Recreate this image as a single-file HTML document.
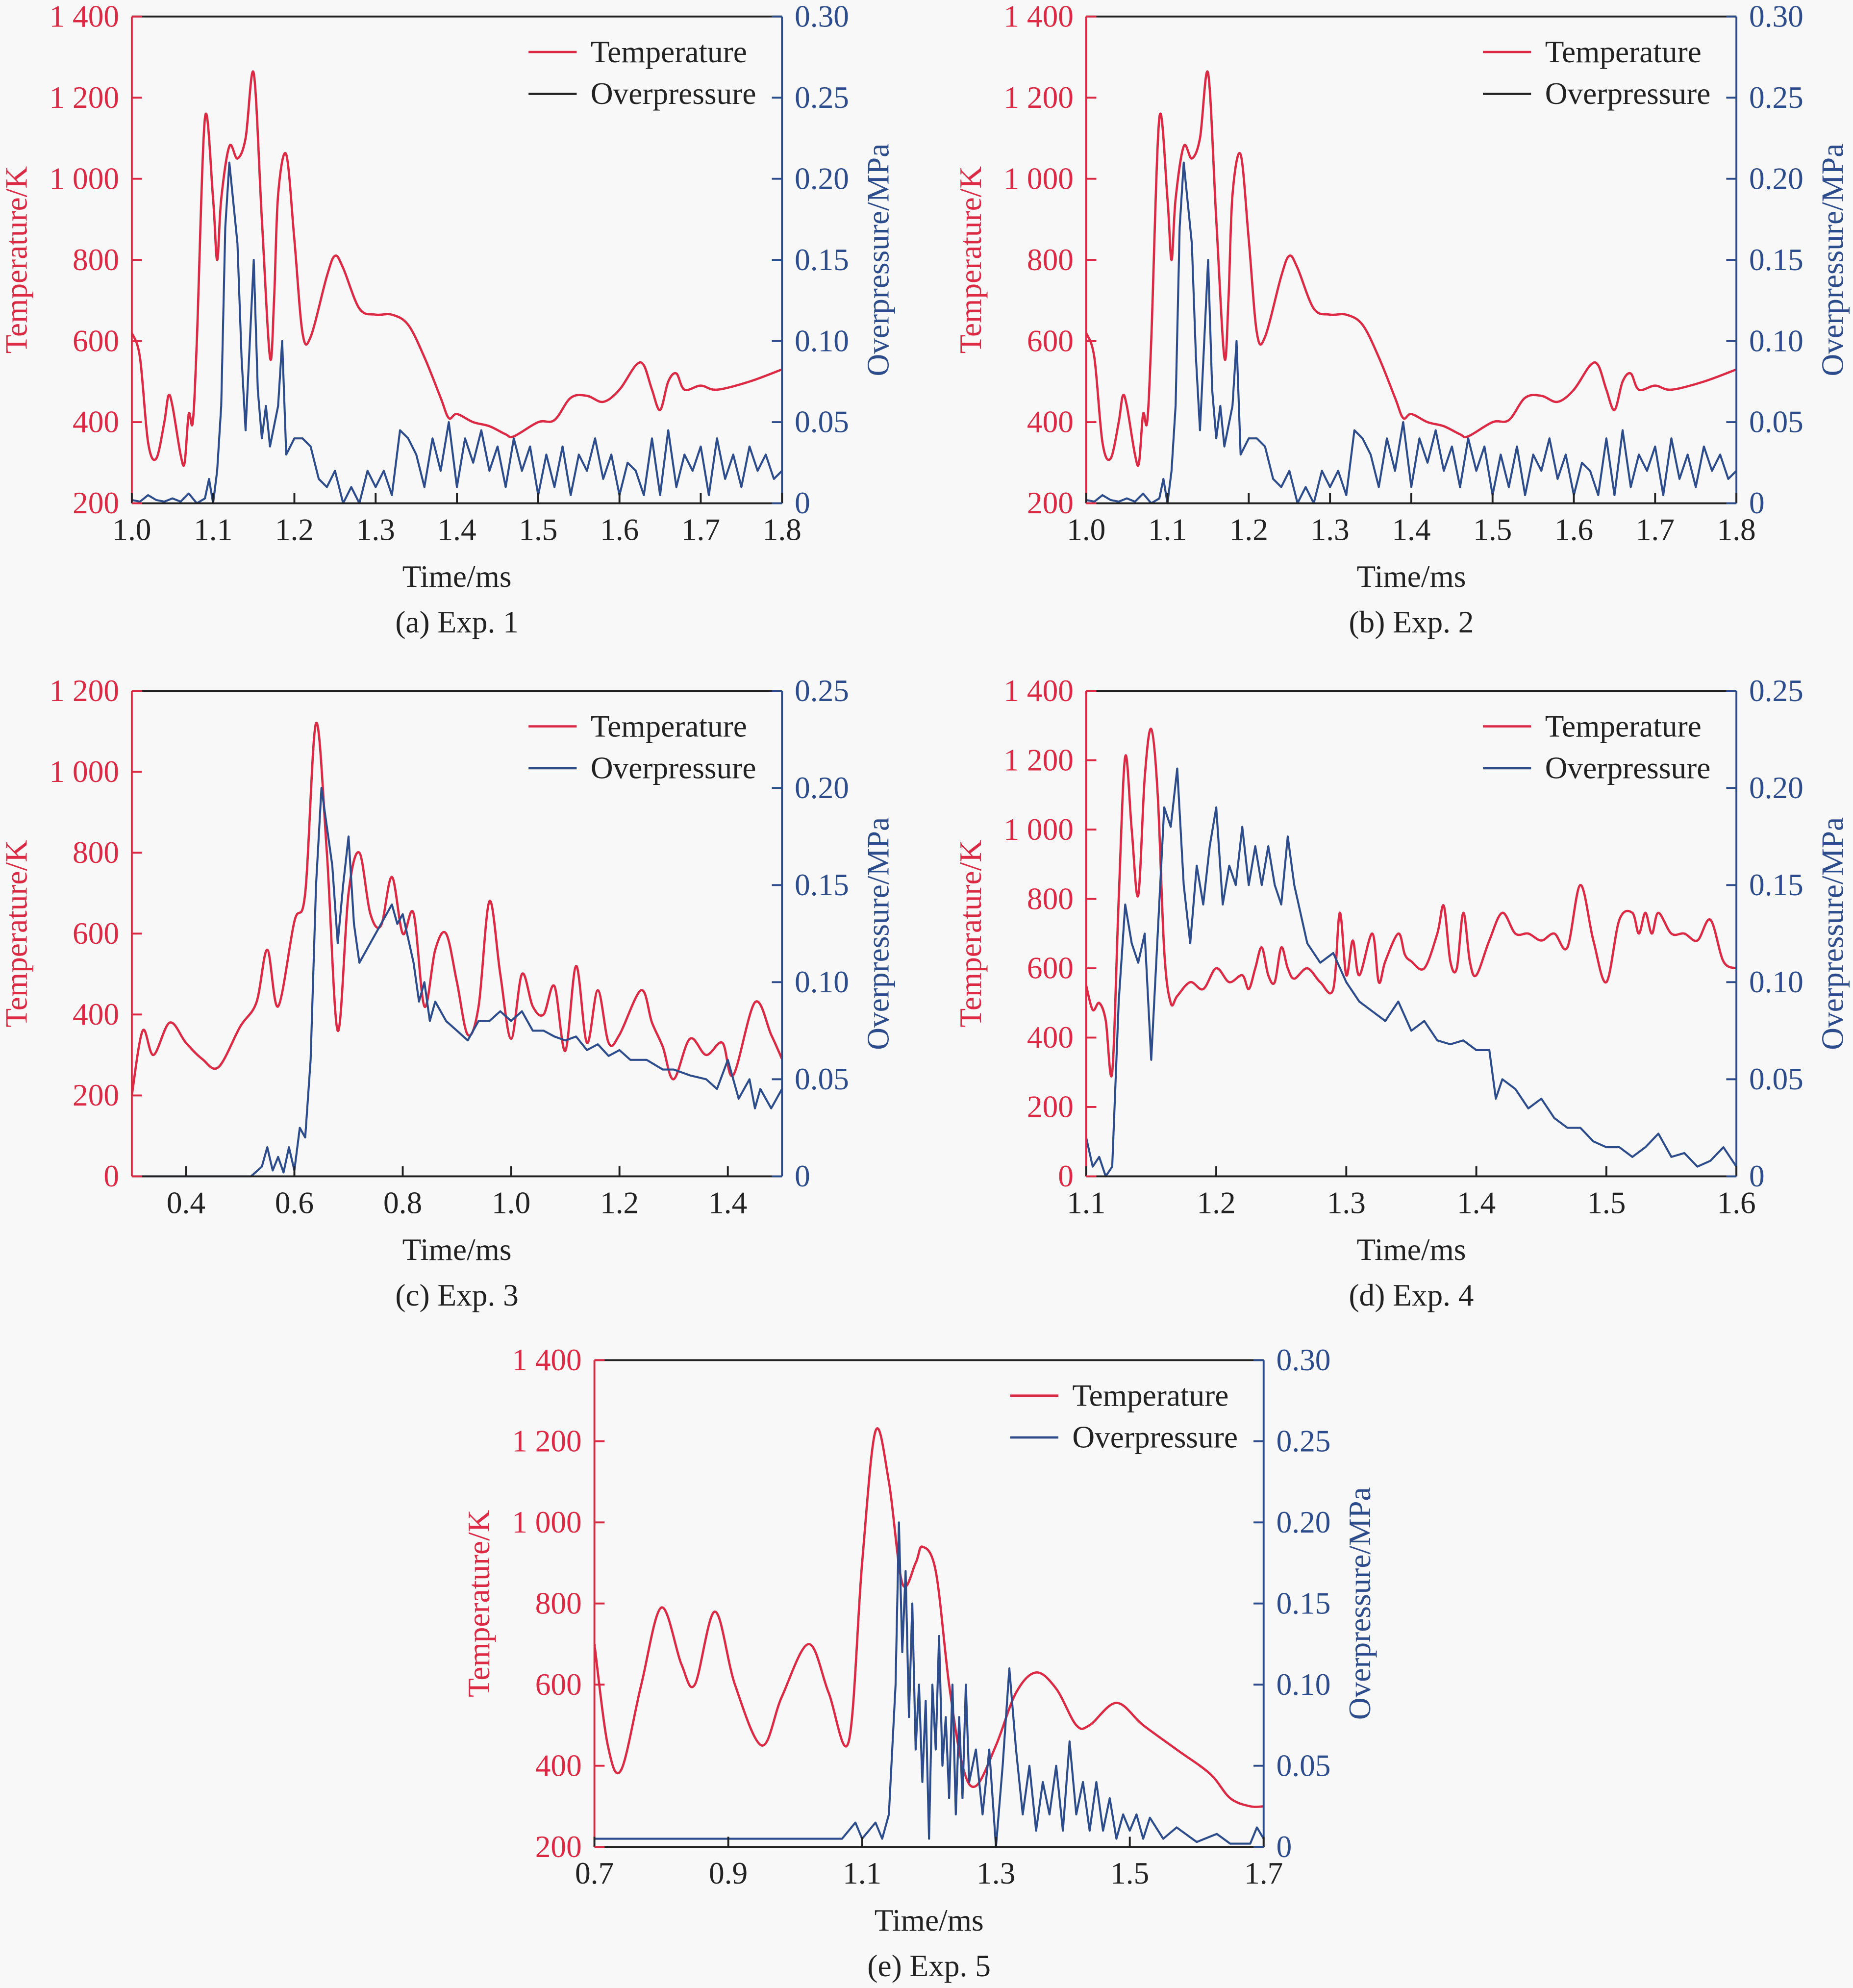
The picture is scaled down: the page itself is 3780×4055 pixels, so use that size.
<!DOCTYPE html>
<html><head><meta charset="utf-8"><style>
html,body{margin:0;padding:0;background:#f8f8f8;}
svg{display:block;}
text{font-family:"Liberation Serif","Times New Roman",serif;}
</style></head><body>
<svg id="fig" xmlns="http://www.w3.org/2000/svg" width="3780" height="4055" viewBox="0 0 1462 1568.3" font-family="Liberation Serif, serif">
<rect x="0" y="0" width="1462" height="1568.3" fill="#f8f8f8"/>
</svg>
<script>
const tempA=[[1.0,620],[1.01,560],[1.02,350],[1.03,310],[1.04,400],[1.045,465],[1.05,440],[1.06,320],[1.065,300],[1.07,420],[1.075,400],[1.08,600],[1.09,1150],[1.1,950],[1.105,800],[1.11,950],[1.12,1080],[1.13,1050],[1.14,1100],[1.15,1260],[1.16,900],[1.17,560],[1.175,700],[1.18,960],[1.19,1060],[1.2,850],[1.21,620],[1.22,610],[1.24,760],[1.25,810],[1.26,780],[1.28,680],[1.3,665],[1.32,665],[1.34,640],[1.36,560],[1.38,460],[1.39,410],[1.4,420],[1.42,400],[1.44,390],[1.46,370],[1.47,365],[1.5,400],[1.52,405],[1.54,460],[1.56,465],[1.58,450],[1.6,480],[1.62,540],[1.63,540],[1.64,480],[1.65,430],[1.66,500],[1.67,520],[1.68,480],[1.7,490],[1.72,480],[1.76,500],[1.8,530]];
const presA=[[1.0,0.002],[1.01,0.001],[1.02,0.005],[1.03,0.002],[1.04,0.001],[1.05,0.003],[1.06,0.001],[1.07,0.006],[1.08,0],[1.09,0.003],[1.095,0.015],[1.1,0.0],[1.105,0.02],[1.11,0.06],[1.115,0.17],[1.12,0.21],[1.13,0.16],[1.135,0.09],[1.14,0.045],[1.15,0.15],[1.155,0.07],[1.16,0.04],[1.165,0.06],[1.17,0.035],[1.18,0.06],[1.185,0.1],[1.19,0.03],[1.2,0.04],[1.21,0.04],[1.22,0.035],[1.23,0.015],[1.24,0.01],[1.25,0.02],[1.26,0.0],[1.27,0.01],[1.28,0.0],[1.29,0.02],[1.3,0.01],[1.31,0.02],[1.32,0.005],[1.33,0.045],[1.34,0.04],[1.35,0.03],[1.36,0.01],[1.37,0.04],[1.38,0.02],[1.39,0.05],[1.4,0.01],[1.41,0.04],[1.42,0.025],[1.43,0.045],[1.44,0.02],[1.45,0.035],[1.46,0.01],[1.47,0.04],[1.48,0.02],[1.49,0.035],[1.5,0.005],[1.51,0.03],[1.52,0.01],[1.53,0.035],[1.54,0.005],[1.55,0.03],[1.56,0.02],[1.57,0.04],[1.58,0.015],[1.59,0.03],[1.6,0.005],[1.61,0.025],[1.62,0.02],[1.63,0.005],[1.64,0.04],[1.65,0.005],[1.66,0.045],[1.67,0.01],[1.68,0.03],[1.69,0.02],[1.7,0.035],[1.71,0.005],[1.72,0.04],[1.73,0.015],[1.74,0.03],[1.75,0.01],[1.76,0.035],[1.77,0.02],[1.78,0.03],[1.79,0.015],[1.8,0.02]];
const tempB=tempA.map(p=>p.slice());
const presB=presA.map(p=>p.slice());
const tempC=[[0.3,200],[0.32,360],[0.34,300],[0.37,380],[0.4,330],[0.43,290],[0.46,270],[0.5,370],[0.53,430],[0.55,560],[0.57,420],[0.6,630],[0.62,700],[0.64,1120],[0.66,800],[0.68,360],[0.7,700],[0.72,800],[0.74,650],[0.76,620],[0.78,740],[0.8,600],[0.82,650],[0.84,420],[0.86,560],[0.88,600],[0.9,480],[0.92,350],[0.94,420],[0.96,680],[0.98,500],[1.0,340],[1.02,500],[1.04,420],[1.06,400],[1.08,470],[1.1,310],[1.12,520],[1.14,330],[1.16,460],[1.18,330],[1.2,350],[1.24,460],[1.26,380],[1.28,320],[1.3,240],[1.33,340],[1.36,300],[1.39,330],[1.41,250],[1.45,430],[1.48,350],[1.5,290]];
const presC=[[0.3,0],[0.52,0],[0.54,0.005],[0.55,0.015],[0.56,0.003],[0.57,0.01],[0.58,0.002],[0.59,0.015],[0.6,0.003],[0.61,0.025],[0.62,0.02],[0.63,0.06],[0.64,0.15],[0.65,0.2],[0.66,0.18],[0.67,0.16],[0.68,0.12],[0.69,0.15],[0.7,0.175],[0.71,0.13],[0.72,0.11],[0.74,0.12],[0.76,0.13],[0.78,0.14],[0.79,0.13],[0.8,0.135],[0.82,0.11],[0.83,0.09],[0.84,0.1],[0.85,0.08],[0.86,0.09],[0.88,0.08],[0.9,0.075],[0.92,0.07],[0.94,0.08],[0.96,0.08],[0.98,0.085],[1.0,0.08],[1.02,0.085],[1.04,0.075],[1.06,0.075],[1.08,0.072],[1.1,0.07],[1.12,0.072],[1.14,0.065],[1.16,0.068],[1.18,0.062],[1.2,0.065],[1.22,0.06],[1.25,0.06],[1.28,0.055],[1.3,0.055],[1.33,0.052],[1.36,0.05],[1.38,0.045],[1.4,0.06],[1.42,0.04],[1.44,0.05],[1.45,0.035],[1.46,0.045],[1.48,0.035],[1.5,0.045]];
const tempD=[[1.1,550],[1.105,480],[1.11,500],[1.115,450],[1.12,300],[1.125,800],[1.13,1210],[1.135,1000],[1.14,810],[1.145,1150],[1.15,1290],[1.155,1100],[1.16,650],[1.165,500],[1.17,520],[1.18,560],[1.19,540],[1.2,600],[1.21,560],[1.22,580],[1.225,540],[1.23,600],[1.235,660],[1.24,580],[1.245,560],[1.25,660],[1.255,600],[1.26,570],[1.27,600],[1.28,560],[1.29,540],[1.295,760],[1.3,580],[1.305,680],[1.31,580],[1.32,700],[1.325,560],[1.33,620],[1.34,700],[1.345,640],[1.35,620],[1.36,600],[1.37,700],[1.375,780],[1.38,620],[1.385,600],[1.39,760],[1.395,620],[1.4,580],[1.41,680],[1.42,760],[1.43,700],[1.44,700],[1.45,680],[1.46,700],[1.47,660],[1.48,840],[1.49,680],[1.5,560],[1.51,740],[1.52,760],[1.525,700],[1.53,760],[1.535,700],[1.54,760],[1.55,700],[1.56,700],[1.57,680],[1.58,740],[1.59,620],[1.6,600]];
const presD=[[1.1,0.02],[1.105,0.005],[1.11,0.01],[1.115,0.0],[1.12,0.005],[1.125,0.09],[1.13,0.14],[1.135,0.12],[1.14,0.11],[1.145,0.125],[1.15,0.06],[1.155,0.125],[1.16,0.19],[1.165,0.18],[1.17,0.21],[1.175,0.15],[1.18,0.12],[1.185,0.16],[1.19,0.14],[1.195,0.17],[1.2,0.19],[1.205,0.14],[1.21,0.16],[1.215,0.15],[1.22,0.18],[1.225,0.15],[1.23,0.17],[1.235,0.15],[1.24,0.17],[1.245,0.15],[1.25,0.14],[1.255,0.175],[1.26,0.15],[1.27,0.12],[1.28,0.11],[1.29,0.115],[1.3,0.1],[1.31,0.09],[1.32,0.085],[1.33,0.08],[1.34,0.09],[1.35,0.075],[1.36,0.08],[1.37,0.07],[1.38,0.068],[1.39,0.07],[1.4,0.065],[1.41,0.065],[1.415,0.04],[1.42,0.05],[1.43,0.045],[1.44,0.035],[1.45,0.04],[1.46,0.03],[1.47,0.025],[1.48,0.025],[1.49,0.018],[1.5,0.015],[1.51,0.015],[1.52,0.01],[1.53,0.015],[1.54,0.022],[1.55,0.01],[1.56,0.012],[1.57,0.005],[1.58,0.008],[1.59,0.015],[1.6,0.005]];
const tempE=[[0.7,700],[0.72,450],[0.74,390],[0.77,600],[0.8,790],[0.83,650],[0.85,600],[0.88,780],[0.91,600],[0.95,450],[0.98,570],[1.02,700],[1.05,580],[1.08,460],[1.1,900],[1.12,1225],[1.14,1100],[1.16,850],[1.18,900],[1.19,940],[1.21,880],[1.23,600],[1.25,400],[1.27,350],[1.3,450],[1.33,580],[1.36,630],[1.39,590],[1.42,500],[1.44,500],[1.48,555],[1.52,500],[1.57,440],[1.62,380],[1.65,320],[1.68,300],[1.7,300]];
const presE=[[0.7,0.005],[1.07,0.005],[1.09,0.015],[1.1,0.005],[1.11,0.01],[1.12,0.015],[1.13,0.005],[1.14,0.02],[1.15,0.1],[1.155,0.2],[1.16,0.12],[1.165,0.17],[1.17,0.08],[1.175,0.15],[1.18,0.06],[1.185,0.1],[1.19,0.04],[1.195,0.09],[1.2,0.005],[1.205,0.1],[1.21,0.06],[1.215,0.13],[1.22,0.05],[1.225,0.08],[1.23,0.03],[1.235,0.1],[1.24,0.02],[1.245,0.08],[1.25,0.03],[1.255,0.1],[1.26,0.04],[1.27,0.06],[1.28,0.02],[1.29,0.06],[1.3,0.0],[1.31,0.05],[1.32,0.11],[1.33,0.06],[1.34,0.02],[1.35,0.05],[1.36,0.01],[1.37,0.04],[1.38,0.02],[1.39,0.05],[1.4,0.01],[1.41,0.065],[1.42,0.02],[1.43,0.04],[1.44,0.01],[1.45,0.04],[1.46,0.01],[1.47,0.03],[1.48,0.005],[1.49,0.02],[1.5,0.01],[1.51,0.02],[1.52,0.005],[1.53,0.018],[1.55,0.005],[1.57,0.012],[1.6,0.003],[1.63,0.008],[1.65,0.002],[1.68,0.002],[1.69,0.012],[1.7,0.005]];
const xTicksAB=[1.0,1.1,1.2,1.3,1.4,1.5,1.6,1.7,1.8];
const xLabelsAB=["1.0","1.1","1.2","1.3","1.4","1.5","1.6","1.7","1.8"];
const xTicksC=[0.4,0.6,0.8,1.0,1.2,1.4];
const xLabelsC=["0.4","0.6","0.8","1.0","1.2","1.4"];
const xTicksD=[1.1,1.2,1.3,1.4,1.5,1.6];
const xLabelsD=["1.1","1.2","1.3","1.4","1.5","1.6"];
const xTicksE=[0.7,0.9,1.1,1.3,1.5,1.7];
const xLabelsE=["0.7","0.9","1.1","1.3","1.5","1.7"];
const tTicks1400=[200,400,600,800,1000,1200,1400];
const tLabels1400=["200","400","600","800","1 000","1 200","1 400"];
const tTicksC=[0,200,400,600,800,1000,1200];
const tLabelsC=["0","200","400","600","800","1 000","1 200"];
const tTicksD=[0,200,400,600,800,1000,1200,1400];
const tLabelsD=["0","200","400","600","800","1 000","1 200","1 400"];
const pTicks30=[0,0.05,0.10,0.15,0.20,0.25,0.30];
const pLabels30=["0","0.05","0.10","0.15","0.20","0.25","0.30"];
const pTicks25=[0,0.05,0.10,0.15,0.20,0.25];
const pLabels25=["0","0.05","0.10","0.15","0.20","0.25"];

const RED="#dc2a45", BLUE="#2c4c8c", NS="http://www.w3.org/2000/svg", FS=24.5, FF="Liberation Serif, serif";
const svg=document.getElementById('fig');
function mk(tag,attrs,parent){const e=document.createElementNS(NS,tag);for(const k in attrs)e.setAttribute(k,attrs[k]);(parent||svg).appendChild(e);return e;}
function txt(s,attrs,parent){attrs['font-family']=FF;attrs['font-size']=FS;const e=mk('text',attrs,parent);e.textContent=s;return e;}
function smooth(pts){let d='M'+pts[0][0].toFixed(2)+','+pts[0][1].toFixed(2);
 for(let i=0;i<pts.length-1;i++){const p0=pts[Math.max(0,i-1)],p1=pts[i],p2=pts[i+1],p3=pts[Math.min(pts.length-1,i+2)];
  const c1x=p1[0]+(p2[0]-p0[0])/6,c1y=p1[1]+(p2[1]-p0[1])/6,c2x=p2[0]-(p3[0]-p1[0])/6,c2y=p2[1]-(p3[1]-p1[1])/6;
  d+=' C'+c1x.toFixed(2)+','+c1y.toFixed(2)+' '+c2x.toFixed(2)+','+c2y.toFixed(2)+' '+p2[0].toFixed(2)+','+p2[1].toFixed(2);}
 return d;}

function panel(o){
 const g=mk('g',{});
 
 
 const L=o.x0,R=o.x1,T=o.y0,B=o.y1;
 const sx=v=>L+(v-o.xmin)/(o.xmax-o.xmin)*(R-L);
 const sT=v=>B-(v-o.tmin)/(o.tmax-o.tmin)*(B-T);
 const sP=v=>B-(v-o.pmin)/(o.pmax-o.pmin)*(B-T);
 const cp=mk('clipPath',{id:'clip-'+o.id},g);mk('rect',{x:L,y:T-2,width:R-L,height:B-T+4},cp);
 const tp=mk('path',{d:smooth(o.temp.map(p=>[sx(p[0]),sT(p[1])])),fill:'none',stroke:RED,'stroke-width':1.8,'stroke-linejoin':'round','clip-path':'url(#clip-'+o.id+')'},g);
 
 
 const pp=mk('polyline',{points:o.pres.map(p=>sx(p[0]).toFixed(2)+','+sP(p[1]).toFixed(2)).join(' '),fill:'none',stroke:BLUE,'stroke-width':1.6,'stroke-linejoin':'round','clip-path':'url(#clip-'+o.id+')'},g);
 
 
 mk('line',{x1:L,y1:T,x2:R,y2:T,stroke:'#222','stroke-width':1.5},g);
 mk('line',{x1:L,y1:B,x2:R,y2:B,stroke:'#222','stroke-width':1.5},g);
 mk('line',{x1:L,y1:T,x2:L,y2:B,stroke:RED,'stroke-width':1.5},g);
 mk('line',{x1:R,y1:T,x2:R,y2:B,stroke:BLUE,'stroke-width':1.5},g);
 o.xt.forEach((v,i)=>{const x=sx(v);mk('line',{x1:x,y1:B,x2:x,y2:B-8,stroke:'#222','stroke-width':1.5},g);
  const t=txt(o.xl[i],{x:x,y:B+29,'text-anchor':'middle',fill:'#222'},g);
  });
 o.tt.forEach((v,i)=>{const y=sT(v);mk('line',{x1:L,y1:y,x2:L+8,y2:y,stroke:RED,'stroke-width':1.5},g);
  const t=txt(o.tl[i],{x:L-10,y:y+8,'text-anchor':'end',fill:RED},g);
  });
 o.pt.forEach((v,i)=>{const y=sP(v);mk('line',{x1:R,y1:y,x2:R-8,y2:y,stroke:BLUE,'stroke-width':1.5},g);
  const t=txt(o.pl[i],{x:R+10,y:y+8,'text-anchor':'start',fill:BLUE},g);
  });
 const cy=(T+B)/2;
 let t=txt('Temperature/K',{x:0,y:0,'text-anchor':'middle',fill:RED,transform:`translate(${L-83},${cy}) rotate(-90)`},g);
 
 t=txt('Overpressure/MPa',{x:0,y:0,'text-anchor':'middle',fill:BLUE,transform:`translate(${R+84},${cy}) rotate(-90)`},g);
 
 t=txt('Time/ms',{x:(L+R)/2,y:B+66,'text-anchor':'middle',fill:'#222'},g);
 
 t=txt(o.cap,{x:(L+R)/2,y:B+102,'text-anchor':'middle',fill:'#222'},g);
 
 const lg=mk('g',{},g);
 
 mk('line',{x1:R-200,y1:T+28,x2:R-162,y2:T+28,stroke:RED,'stroke-width':1.8},lg);
 txt('Temperature',{x:R-151,y:T+36,fill:'#222'},lg);
 mk('line',{x1:R-200,y1:T+61,x2:R-162,y2:T+61,stroke:o.legP,'stroke-width':1.8},lg);
 txt('Overpressure',{x:R-151,y:T+69,fill:'#222'},lg);
}
panel({id:'a',x0:104,x1:617,y0:13,y1:397,xmin:1.0,xmax:1.8,tmin:200,tmax:1400,pmin:0,pmax:0.30,temp:tempA,pres:presA,xt:xTicksAB,xl:xLabelsAB,tt:tTicks1400,tl:tLabels1400,pt:pTicks30,pl:pLabels30,cap:'(a) Exp. 1',legP:'#222'});
panel({id:'b',x0:857,x1:1370,y0:13,y1:397,xmin:1.0,xmax:1.8,tmin:200,tmax:1400,pmin:0,pmax:0.30,temp:tempB,pres:presB,xt:xTicksAB,xl:xLabelsAB,tt:tTicks1400,tl:tLabels1400,pt:pTicks30,pl:pLabels30,cap:'(b) Exp. 2',legP:'#222'});
panel({id:'c',x0:104,x1:617,y0:545,y1:928,xmin:0.3,xmax:1.5,tmin:0,tmax:1200,pmin:0,pmax:0.25,temp:tempC,pres:presC,xt:xTicksC,xl:xLabelsC,tt:tTicksC,tl:tLabelsC,pt:pTicks25,pl:pLabels25,cap:'(c) Exp. 3',legP:BLUE});
panel({id:'d',x0:857,x1:1370,y0:545,y1:928,xmin:1.1,xmax:1.6,tmin:0,tmax:1400,pmin:0,pmax:0.25,temp:tempD,pres:presD,xt:xTicksD,xl:xLabelsD,tt:tTicksD,tl:tLabelsD,pt:pTicks25,pl:pLabels25,cap:'(d) Exp. 4',legP:BLUE});
panel({id:'e',x0:469,x1:997,y0:1073,y1:1457,xmin:0.7,xmax:1.7,tmin:200,tmax:1400,pmin:0,pmax:0.30,temp:tempE,pres:presE,xt:xTicksE,xl:xLabelsE,tt:tTicks1400,tl:tLabels1400,pt:pTicks30,pl:pLabels30,cap:'(e) Exp. 5',legP:BLUE});
</script>
</body></html>
